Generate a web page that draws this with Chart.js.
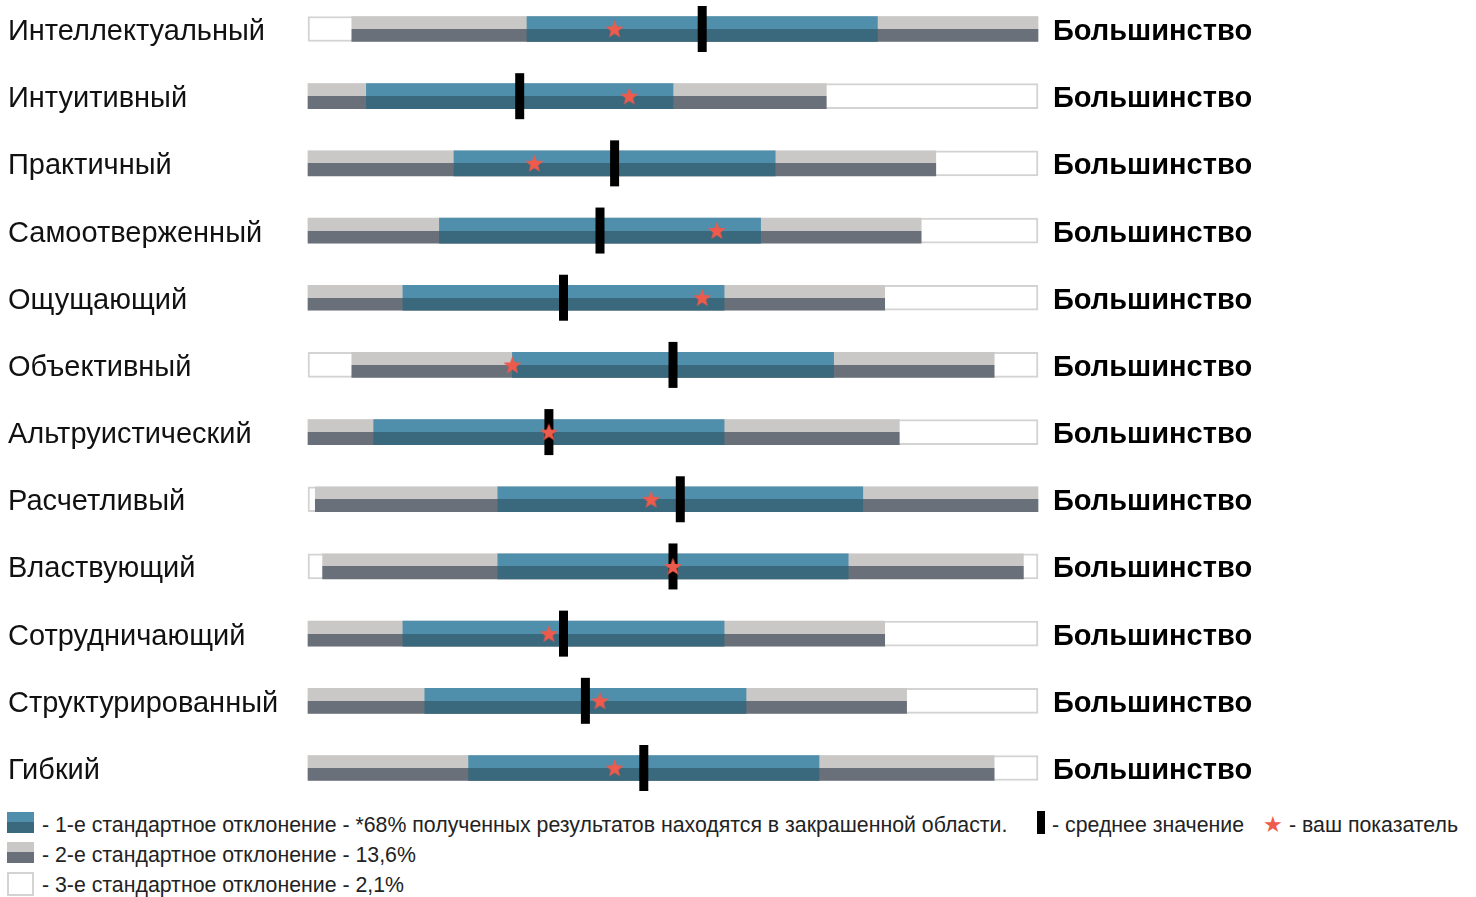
<!DOCTYPE html>
<html lang="ru">
<head>
  <meta charset="UTF-8">
  <title>Профиль</title>
  <script src="https://cdn.jsdelivr.net/npm/chart.js"></script>
  <style>
    body {
      margin: 0;
      background: #fff;
      font-family: "Liberation Sans", Arial, sans-serif;
      color: #222;
    }
    #wrap {
      position: relative;
      width: 1476px;
      height: 805px;
    }
    #legend {
      position: relative;
      width: 1476px;
      height: 92px;
      font-size: 21.3px;
    }
    .row {
      position: absolute;
      left: 0;
      height: 30px;
      line-height: 30px;
      white-space: nowrap;
    }
    .sw {
      position: absolute;
      left: 7px;
      top: 7px;
      width: 27px;
      height: 21px;
      box-sizing: border-box;
    }
    .txt { position: absolute; left: 42px; top: 5px; }
    .mean-sw {
      position: absolute;
      left: 1037px;
      top: 6px;
      width: 8px;
      height: 23px;
      background: #000;
    }
    .star-sw {
      position: absolute;
      left: 1263px;
      top: 5px;
      color: #ee5a4b;
      font-family: "DejaVu Sans", sans-serif;
      font-size: 22px;
    }
  </style>
</head>
<body>

<div id="wrap"><canvas id="chart"></canvas></div>

<div id="legend">
  <div class="row" style="top:0">
    <div class="sw" style="background:linear-gradient(#4f8fab 0 50%, #3a687c 50% 100%)"></div>
    <span class="txt">- 1-е стандартное отклонение - *68% полученных результатов находятся в закрашенной области.</span>
    <div class="mean-sw"></div>
    <span style="position:absolute;left:1052px;top:5px">- среднее значение</span>
    <span class="star-sw">★</span>
    <span style="position:absolute;left:1289px;top:5px">- ваш показатель</span>
  </div>
  <div class="row" style="top:30px">
    <div class="sw" style="background:linear-gradient(#cac8c6 0 50%, #6a707a 50% 100%)"></div>
    <span class="txt">- 2-е стандартное отклонение - 13,6%</span>
  </div>
  <div class="row" style="top:60px">
    <div class="sw" style="background:#fff;border:2px solid #d3d3d3;height:24px"></div>
    <span class="txt">- 3-е стандартное отклонение - 2,1%</span>
  </div>
</div>

<script>
const categories = [
  'Интеллектуальный', 'Интуитивный', 'Практичный', 'Самоотверженный',
  'Ощущающий', 'Объективный', 'Альтруистический', 'Расчетливый',
  'Властвующий', 'Сотрудничающий', 'Структурированный', 'Гибкий'
];
const rightLabels = categories.map(() => 'Большинство');

// шкала 0..100
const sd2Low  = [6, 0, 0, 0, 0, 6, 0, 1, 2, 0, 0, 0];
const sd2High = [100, 71, 86, 84, 79, 94, 81, 100, 98, 79, 82, 94];
const sd1Low  = [30, 8, 20, 18, 13, 28, 9, 26, 26, 13, 16, 22];
const sd1High = [78, 50, 64, 62, 57, 72, 57, 76, 74, 57, 60, 70];
const means   = [54, 29, 42, 40, 35, 50, 33, 51, 50, 35, 38, 46];
const scores  = [42, 44, 31, 56, 54, 28, 33, 47, 50, 33, 40, 42];

const BAR_H = 25;

function twoTone(top, bottom) {
  return function(ctx) {
    const chart = ctx.chart;
    const y = chart.scales.y;
    if (!y || ctx.dataIndex === undefined) return top;
    const yc = y.getPixelForValue(ctx.dataIndex);
    if (!isFinite(yc)) return top;
    const g = chart.ctx.createLinearGradient(0, yc - BAR_H / 2, 0, yc + BAR_H / 2);
    g.addColorStop(0, top);
    g.addColorStop(0.5, top);
    g.addColorStop(0.5, bottom);
    g.addColorStop(1, bottom);
    return g;
  };
}

// красная звездочка
function makeStar(size, color) {
  const c = document.createElement('canvas');
  c.width = size; c.height = size;
  const g = c.getContext('2d');
  const cx = size / 2, cy = size / 2 + 0.8;
  const ro = size / 2, ri = ro * 0.42;
  g.beginPath();
  for (let i = 0; i < 10; i++) {
    const r = i % 2 ? ri : ro;
    const a = -Math.PI / 2 + i * Math.PI / 5;
    g.lineTo(cx + r * Math.cos(a), cy + r * Math.sin(a));
  }
  g.closePath();
  g.fillStyle = color;
  g.fill();
  return c;
}
const starImg = makeStar(19, '#ee5a4b');

new Chart(document.getElementById('chart'), {
  type: 'bar',
  data: {
    labels: categories,
    datasets: [
      {
        label: 'ваш показатель',
        type: 'line',
        indexAxis: 'y',
        data: scores,
        showLine: false,
        pointStyle: starImg,
        pointRadius: 9,
        pointHoverRadius: 9,
        clip: false,
        order: 0
      },
      {
        label: 'среднее значение',
        type: 'line',
        indexAxis: 'y',
        data: means,
        showLine: false,
        pointStyle: 'line',
        rotation: 90,
        pointRadius: 23,
        pointHoverRadius: 23,
        borderColor: '#000',
        pointBorderWidth: 9,
        pointHoverBorderWidth: 9,
        clip: false,
        order: 1
      },
      {
        label: '1-е стандартное отклонение',
        data: sd1Low.map((v, i) => [v, sd1High[i]]),
        backgroundColor: twoTone('#4f8fab', '#3a687c'),
        barThickness: BAR_H,
        grouped: false,
        borderWidth: 0,
        clip: false,
        order: 2
      },
      {
        label: '2-е стандартное отклонение',
        data: sd2Low.map((v, i) => [v, sd2High[i]]),
        backgroundColor: twoTone('#cac8c6', '#6a707a'),
        barThickness: BAR_H,
        grouped: false,
        borderWidth: 0,
        clip: false,
        order: 3
      },
      {
        label: '3-е стандартное отклонение',
        data: categories.map(() => [0, 100]),
        backgroundColor: '#ffffff',
        borderColor: '#d3d3d3',
        borderWidth: 2,
        borderSkipped: false,
        barThickness: BAR_H,
        grouped: false,
        clip: false,
        order: 4
      }
    ]
  },
  options: {
    indexAxis: 'y',
    responsive: true,
    maintainAspectRatio: false,
    animation: false,
    layout: {
      autoPadding: false,
      padding: { left: 8, right: 0, top: 29, bottom: 37 }
    },
    plugins: {
      legend: { display: false },
      tooltip: { enabled: false }
    },
    scales: {
      x: {
        display: false,
        min: 0,
        max: 100
      },
      y: {
        position: 'left',
        offset: false,
        grid: { display: false, drawTicks: false },
        border: { display: false },
        afterFit: s => { s.width = 300; },
        ticks: {
          crossAlign: 'far',
          labelOffset: 3,
          color: '#111',
          font: { family: 'Liberation Sans', size: 29 }
        }
      },
      y2: {
        position: 'right',
        type: 'category',
        labels: rightLabels,
        offset: false,
        // невидимые засечки дают отступ подписи от шкалы
        grid: { display: false, drawTicks: true, tickLength: 12 },
        border: { display: false },
        afterFit: s => { s.width = 438; },
        ticks: {
          crossAlign: 'near',
          padding: 3,
          labelOffset: 3,
          color: '#000',
          font: { family: 'Liberation Sans', size: 29, weight: 'bold' }
        }
      }
    }
  }
});
</script>

</body>
</html>
